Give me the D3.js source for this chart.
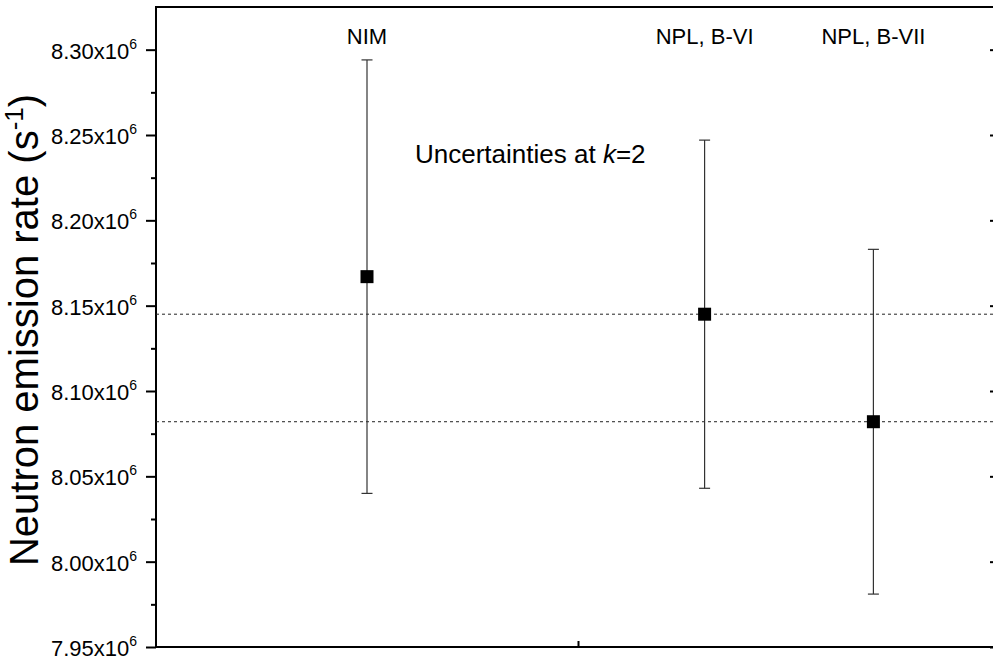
<!DOCTYPE html>
<html>
<head>
<meta charset="utf-8">
<script src="https://cdn.jsdelivr.net/npm/d3@7"></script>
<style>
  body { margin: 0; background: #fff; }
  svg { display: block; }
  text { font-family: Arial, "Liberation Sans", sans-serif; fill: #000; }
</style>
</head>
<body>
<div id="chart"></div>
<script>
// measurements (units: s^-1)
const labs = ["NIM", "NPL, B-VI", "NPL, B-VII"];
const xPos = [1, 2.6, 3.4];
const rate = [8.167e6, 8.145e6, 8.082e6];
const upper = [8.294e6, 8.247e6, 8.183e6];
const lower = [8.040e6, 8.043e6, 7.981e6];
const refLines = [8.145e6, 8.082e6];
const yTicks = [7.95e6, 8.00e6, 8.05e6, 8.10e6, 8.15e6, 8.20e6, 8.25e6, 8.30e6];
const yMinor = [7.975e6, 8.025e6, 8.075e6, 8.125e6, 8.175e6, 8.225e6, 8.275e6];

const width = 993, height = 662;
const plotL = 156, plotR = 1000, plotT = 7, plotB = 647;

const x = d3.scaleLinear().domain([0, 4]).range([plotL, plotR]);
const y = d3.scaleLinear().domain([7.95e6, 8.325e6]).range([plotB, plotT]);

const svg = d3.select("#chart").append("svg")
  .attr("width", width)
  .attr("height", height);

// frame
svg.append("rect")
  .attr("x", plotL).attr("y", plotT)
  .attr("width", plotR - plotL).attr("height", plotB - plotT)
  .attr("fill", "none").attr("stroke", "#000").attr("stroke-width", 2);

// left axis, major + minor ticks
const yAxis = svg.append("g")
  .attr("transform", `translate(${plotL},0)`)
  .call(d3.axisLeft(y).tickValues(yTicks).tickSize(10).tickFormat(""));
yAxis.select(".domain").remove();
yAxis.selectAll("line").attr("stroke-width", 2);

const yAxisMinor = svg.append("g")
  .attr("transform", `translate(${plotL},0)`)
  .call(d3.axisLeft(y).tickValues(yMinor).tickSize(5).tickFormat(""));
yAxisMinor.select(".domain").remove();
yAxisMinor.selectAll("line").attr("stroke-width", 2);

// right axis ticks (inward)
const yAxisR = svg.append("g")
  .attr("transform", `translate(${plotR},0)`)
  .call(d3.axisRight(y).tickValues(yTicks).tickSize(-10).tickFormat(""));
yAxisR.select(".domain").remove();
yAxisR.selectAll("line").attr("stroke-width", 2);

// bottom axis tick (inward)
const xAxis = svg.append("g")
  .attr("transform", `translate(0,${plotB})`)
  .call(d3.axisBottom(x).tickValues([2]).tickSize(-6).tickFormat(""));
xAxis.select(".domain").remove();
xAxis.selectAll("line").attr("stroke-width", 2);

// tick labels like 8.30x10^6
const tl = svg.append("g").selectAll("text")
  .data(yTicks)
  .enter().append("text")
    .attr("x", 137)
    .attr("y", d => y(d) + 9)
    .attr("text-anchor", "end")
    .style("font-size", "22px");
tl.append("tspan").text(d => (d / 1e6).toFixed(2) + "x10");
tl.append("tspan").attr("dy", -10).style("font-size", "14px").text("6");

// axis title
const title = svg.append("text")
  .attr("transform", "translate(38,330) rotate(-90)")
  .attr("text-anchor", "middle")
  .style("font-size", "40px");
title.append("tspan").text("Neutron emission rate (s");
title.append("tspan").attr("dy", -15).style("font-size", "26px").text("-1");
title.append("tspan").attr("dy", 15).text(")");

// dotted reference lines
svg.append("g").selectAll("line")
  .data(refLines)
  .enter().append("line")
    .attr("x1", plotL).attr("x2", plotR)
    .attr("y1", d => y(d)).attr("y2", d => y(d))
    .attr("stroke", "#222")
    .attr("stroke-width", 1)
    .attr("stroke-dasharray", "3,3");

// error bars
const eb = svg.append("g").selectAll("g")
  .data(xPos)
  .enter().append("g")
    .attr("stroke", "#333")
    .attr("stroke-width", 1.2);
eb.append("line")
  .attr("x1", d => x(d)).attr("x2", d => x(d))
  .attr("y1", (d, i) => y(upper[i])).attr("y2", (d, i) => y(lower[i]));
eb.append("line")
  .attr("x1", d => x(d) - 5.5).attr("x2", d => x(d) + 5.5)
  .attr("y1", (d, i) => y(upper[i])).attr("y2", (d, i) => y(upper[i]));
eb.append("line")
  .attr("x1", d => x(d) - 5.5).attr("x2", d => x(d) + 5.5)
  .attr("y1", (d, i) => y(lower[i])).attr("y2", (d, i) => y(lower[i]));

// points
svg.append("g").selectAll("rect")
  .data(xPos)
  .enter().append("rect")
    .attr("x", d => x(d) - 6.5)
    .attr("y", (d, i) => y(rate[i]) - 6.5)
    .attr("width", 13).attr("height", 13)
    .attr("fill", "#000");

// category labels along the top
svg.append("g").selectAll("text")
  .data(labs)
  .enter().append("text")
    .attr("x", (d, i) => x(xPos[i]))
    .attr("y", 44)
    .attr("text-anchor", "middle")
    .style("font-size", "22px")
    .text(d => d);

// annotation
const note = svg.append("text")
  .attr("x", 415).attr("y", 163)
  .style("font-size", "26px");
note.append("tspan").text("Uncertainties at ");
note.append("tspan").style("font-style", "italic").text("k");
note.append("tspan").text("=2");
</script>
</body>
</html>
